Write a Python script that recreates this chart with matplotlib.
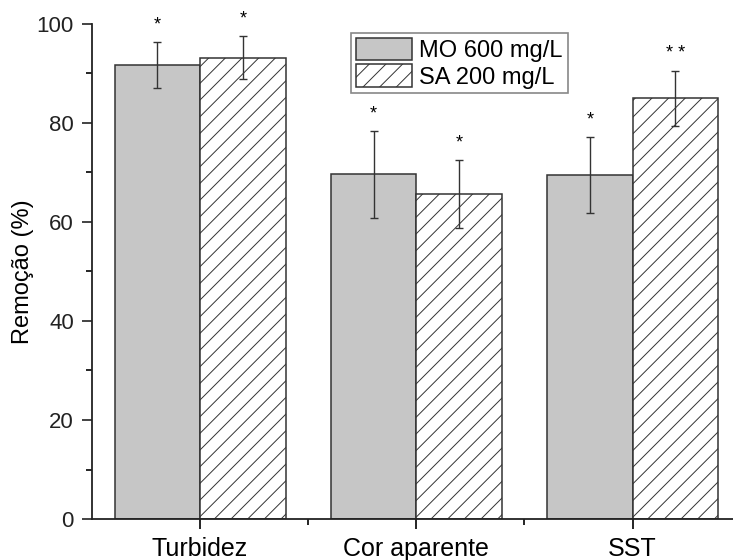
import numpy as np
import matplotlib.pyplot as plt
from matplotlib.ticker import MultipleLocator, FixedLocator

plt.rcParams['font.family'] = ['Liberation Sans', 'DejaVu Sans']
plt.rcParams['hatch.linewidth'] = 0.7
plt.rcParams['hatch.color'] = '#333333'

# parameters and removal results
categories = ["Turbidez", "Cor aparente", "SST"]
mo_mean = [91.7, 69.6, 69.5]
mo_err = [4.6, 8.8, 7.7]
sa_mean = [93.2, 65.7, 85.0]
sa_err = [4.4, 6.9, 5.6]
mo_stars = ["*", "*", "*"]
sa_stars = ["*", "*", "* *"]

x = np.arange(len(categories))
w = 0.395
edge = '#333333'

fig = plt.figure(figsize=(7.33, 5.6), dpi=100)
ax = fig.add_axes([0.1255, 0.0732, 0.885, 0.884])

ax.bar(x - w / 2, mo_mean, w, color='#c6c6c6', edgecolor=edge, linewidth=1.1,
       label="MO 600 mg/L")
ax.bar(x + w / 2, sa_mean, w, color='white', edgecolor=edge, linewidth=1.1,
       hatch='//', label="SA 200 mg/L")
ax.errorbar(x - w / 2, mo_mean, yerr=mo_err, fmt='none', ecolor=edge, elinewidth=1,
            capsize=3, capthick=1)
ax.errorbar(x + w / 2, sa_mean, yerr=sa_err, fmt='none', ecolor=edge, elinewidth=1,
            capsize=3, capthick=1)

# significance marks above the error bars
for xi, m, e, s in zip(x - w / 2, mo_mean, mo_err, mo_stars):
    ax.annotate(s, (xi, m + e), xytext=(0, 6), textcoords='offset points',
                ha='center', va='bottom', fontsize=13)
for xi, m, e, s in zip(x + w / 2, sa_mean, sa_err, sa_stars):
    ax.annotate(s, (xi, m + e), xytext=(0, 6), textcoords='offset points',
                ha='center', va='bottom', fontsize=13, annotation_clip=False)

ax.set_xlim(-0.5, 2.5)
ax.set_ylim(0, 100)
ax.set_ylabel("Remoção (%)", fontsize=17, labelpad=2)
ax.set_xticks(x)
ax.set_xticklabels(categories, fontsize=18)
ax.xaxis.set_minor_locator(FixedLocator([0.5, 1.5]))
ax.yaxis.set_major_locator(MultipleLocator(20))
ax.yaxis.set_minor_locator(MultipleLocator(10))
ax.tick_params(axis='y', which='major', direction='out', length=7, width=1.2,
               labelsize=16, colors='#222222', pad=6)
ax.tick_params(axis='y', which='minor', direction='out', length=4, width=1.2)
ax.tick_params(axis='x', which='major', direction='out', length=7, width=1.2,
               labelsize=18, pad=6)
ax.tick_params(axis='x', which='minor', direction='out', length=4, width=1.2)

for side in ['top', 'right']:
    ax.spines[side].set_visible(False)
for side in ['left', 'bottom']:
    ax.spines[side].set_linewidth(1.3)
    ax.spines[side].set_color('#222222')

leg = ax.legend(loc='upper left', bbox_to_anchor=(0.399, 0.982), fontsize=17,
                fancybox=False, edgecolor='#888888', framealpha=1,
                handlelength=2.4, handleheight=1.1, handletextpad=0.3,
                labelspacing=0.1, borderpad=0.2, borderaxespad=0)
leg.get_frame().set_linewidth(1.2)

fig.savefig("out.png", dpi=100)
